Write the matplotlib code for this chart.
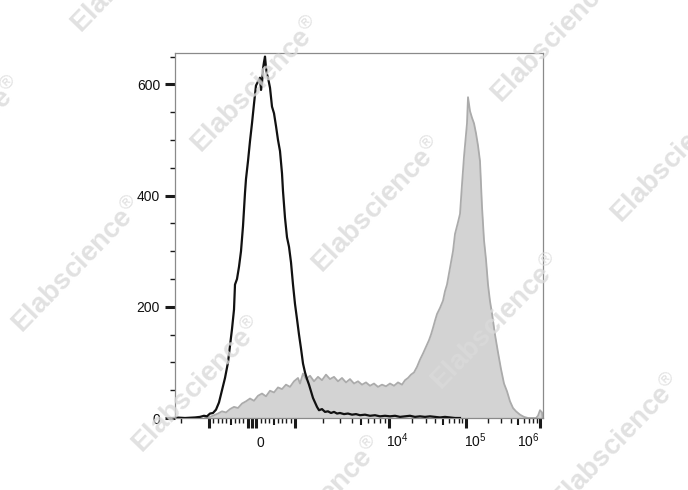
import numpy as np
import matplotlib
matplotlib.use("Agg")
import matplotlib.pyplot as plt
from matplotlib import transforms

plt.rcParams['font.family'] = ['Liberation Sans', 'DejaVu Sans']
plt.rcParams['mathtext.fontset'] = 'custom'
plt.rcParams['mathtext.rm'] = 'Liberation Sans'
plt.rcParams['mathtext.it'] = 'Liberation Sans:italic'
plt.rcParams['mathtext.bf'] = 'Liberation Sans:bold'

# ---------------- data (x in display channels, y in counts) ----------------
control_channel = [0, 10, 20, 25, 29, 32, 35, 38, 41, 44, 47, 50, 53, 55, 57, 59, 60, 62, 64, 66,
                   68, 70, 71, 73, 75, 77, 79, 81, 83, 85, 86, 87, 88, 89, 90, 91, 92, 93, 95, 97,
                   99, 101, 103, 105, 107, 108, 110, 112, 114, 116, 118, 120, 122, 124, 126, 128,
                   130, 132, 134, 136, 138, 140, 142, 144, 147, 150, 153, 156, 159, 162, 165, 169,
                   173, 177, 181, 185, 190, 195, 200, 205, 210, 215, 220, 225, 230, 235, 240, 245,
                   250, 255, 260, 265, 270, 275, 280, 285]
control_count = [1, 0, 1, 2, 4, 3, 8, 9, 15, 28, 50, 72, 100, 130, 160, 195, 240, 250, 272, 300,
                 345, 405, 430, 462, 498, 530, 565, 598, 605, 612, 590, 603, 628, 640, 650, 630, 618, 612, 594, 560,
                 548, 525, 500, 480, 440, 408, 360, 325, 308, 280, 240, 205, 178, 150, 125, 98,
                 82, 70, 60, 48, 36, 28, 20, 14, 16, 11, 12, 9, 11, 8, 9, 7,
                 8, 6, 7, 5, 6, 4, 5, 3, 4, 3, 4, 2, 3, 4, 2, 3,
                 2, 3, 2, 1, 2, 1, 0, 0]

stained_channel = [30, 35, 39, 43, 47, 51, 55, 59, 63, 67, 71, 75, 79, 83, 87, 91, 95, 99, 103, 107,
                   111, 115, 119, 123, 125, 128, 131, 135, 139, 143, 147, 151, 155, 159, 163, 167,
                   171, 175, 179, 183, 187, 191, 195, 199, 203, 207, 211, 215, 219, 223, 227, 230,
                   233, 236, 239, 242, 245, 248, 251, 254, 256, 258, 260, 262, 265, 268, 270, 272,
                   275, 278, 280, 283, 285, 287, 289, 291, 292, 293, 295, 297, 299, 301, 303, 305,
                   307, 309, 311, 313, 315, 317, 320, 323, 326, 329, 332, 335, 338, 341, 345, 349,
                   353, 361, 363, 365, 367, 367.5]
stained_count = [0, 2, 5, 8, 12, 10, 16, 20, 18, 26, 30, 35, 31, 40, 44, 39, 49, 46, 55, 52,
                 60, 56, 66, 72, 62, 80, 70, 76, 66, 74, 68, 78, 70, 74, 66, 72,
                 64, 70, 62, 66, 60, 64, 58, 62, 56, 60, 57, 62, 58, 64, 60, 68,
                 72, 78, 82, 92, 105, 116, 128, 140, 150, 162, 175, 187, 198, 211, 228, 240,
                 270, 300, 331, 352, 367, 420, 470, 510, 530, 577, 552, 540, 530, 512, 490, 462,
                 380, 320, 285, 240, 210, 188, 150, 118, 88, 62, 48, 30, 18, 12, 6, 2,
                 0, 0, 4, 14, 10, 0]

y_major = [0, 200, 400, 600]
y_minor = [50, 100, 150, 250, 300, 350, 450, 500, 550, 650]

x_big = [-1000, -100, 0, 100, 1000, 1e4, 1e5, 1e6]
x_medium = [-500, 500, 5e3, 5e4, 5e5]
x_small = [-2000, -900, -800, -700, -600, -400, -300, -200,
           200, 300, 400, 600, 700, 800, 900,
           2e3, 3e3, 4e3, 6e3, 7e3, 8e3, 9e3,
           2e4, 3e4, 4e4, 6e4, 7e4, 8e4, 9e4,
           2e5, 3e5, 4e5, 6e5, 7e5, 8e5, 9e5]
x_label_values = [0, 1e4, 1e5, 1e6]
x_label_texts = ['0', '$10^{4}$', '$10^{5}$', '$10^{6}$']
x_label_shift_px = [8, 8, 9, -12]

# biexponential display mapping (value -> channel)
ZERO_CH, LIN_CH_PER_1000 = 77.0, 43.0
POS_DECADES, POS_CH = [3, 4, 5, 6], [120.0, 214.0, 291.0, 365.0]
NEG_CH_PER_DECADE = 94.0


def to_channel(v):
    if abs(v) <= 1000:
        return ZERO_CH + v * LIN_CH_PER_1000 / 1000.0
    if v > 0:
        return float(np.interp(np.log10(v), POS_DECADES, POS_CH))
    return ZERO_CH - LIN_CH_PER_1000 - (np.log10(-v) - 3) * NEG_CH_PER_DECADE


# ---------------- figure ----------------
fig = plt.figure(figsize=(6.88, 4.90), dpi=100)
ax = fig.add_axes([175 / 688, 1 - 418 / 490, (542.5 - 175) / 688, (418 - 52.7) / 490])

ax.fill_between(stained_channel, stained_count, 0, color='#d3d3d3', lw=0, zorder=1)
ax.plot(stained_channel, stained_count, color='#ababab', lw=1.3, zorder=2)
ax.plot(control_channel, control_count, color='#111111', lw=1.6, zorder=3)

ax.set_xlim(0, 367.5)
ax.set_ylim(0, 657)

for s in ax.spines.values():
    s.set_color('#8a8a8a')
    s.set_linewidth(0.9)

# y ticks
ax.set_yticks(y_major)
ax.set_yticks(y_minor, minor=True)
ax.tick_params(axis='y', which='major', direction='out', length=7.2, width=2.2,
               color='#1a1a1a', labelsize=10, pad=3.6, labelcolor='#111111')
ax.tick_params(axis='y', which='minor', direction='out', length=3.6, width=1.0, color='#1a1a1a')

# x ticks (all as major ticks, styled individually)
all_vals = x_big + x_medium + x_small
pos = [to_channel(v) for v in all_vals]
labels = []
for v in all_vals:
    if v in x_label_values:
        labels.append(x_label_texts[x_label_values.index(v)])
    else:
        labels.append('')
ax.set_xticks(pos, labels=labels)
ax.tick_params(axis='x', which='major', direction='out', length=7.2, width=2.2,
               color='#1a1a1a', labelsize=10, pad=13.6, labelcolor='#111111')
ax.tick_params(axis='x', which='minor', bottom=False)

ticks = ax.xaxis.get_major_ticks()
for t, v in zip(ticks, all_vals):
    if v in x_big:
        t.tick1line.set_markersize(7.2)
        t.tick1line.set_markeredgewidth(2.2)
    elif v in x_medium:
        t.tick1line.set_markersize(5.0)
        t.tick1line.set_markeredgewidth(1.5)
    else:
        t.tick1line.set_markersize(3.3)
        t.tick1line.set_markeredgewidth(1.0)
    t.label1.set_verticalalignment('baseline')
    if v in x_label_values:
        dx = x_label_shift_px[x_label_values.index(v)]
        t.label1.set_transform(t.label1.get_transform() +
                               transforms.ScaledTranslation(dx / 100.0, 0, fig.dpi_scale_trans))

# ---------------- watermarks ----------------
wm_centers_px = [(137, -35), (257, 85), (378, 205), (497, 322), (617, 442),
                 (-42, 145), (78, 265), (198, 385), (318, 505),
                 (557, 35), (677, 155)]
for (px, py) in wm_centers_px:
    fig.text(px / 688, 1 - py / 490, 'Elabscience$^{®}$', fontsize=20, fontweight='bold',
             color='#dadada', alpha=0.8, rotation=46, rotation_mode='anchor',
             ha='center', va='center', zorder=20)

fig.savefig('out.png', dpi=100)
